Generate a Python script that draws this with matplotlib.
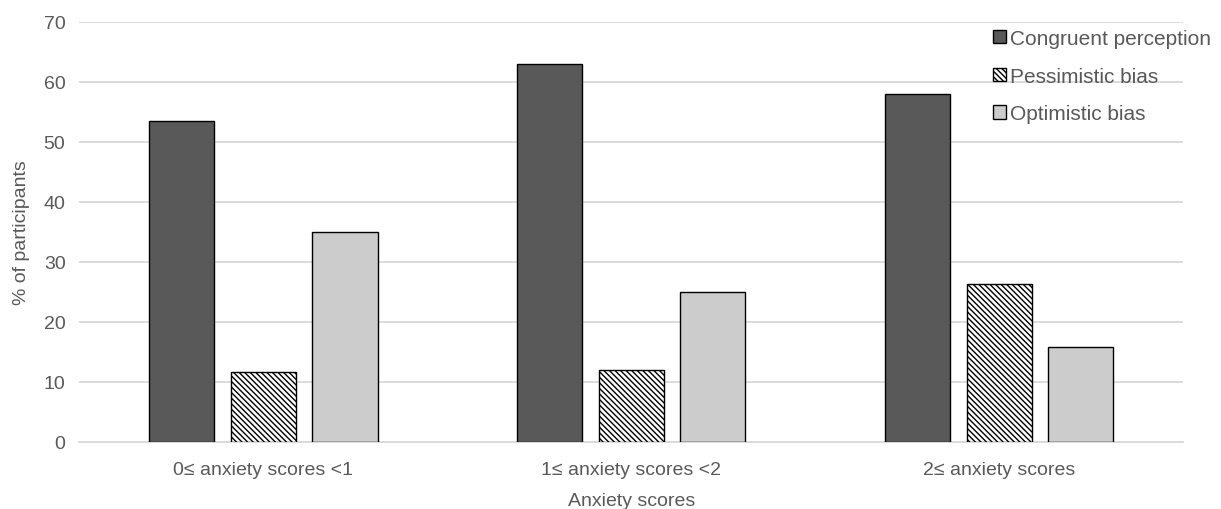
import numpy as np
import matplotlib.pyplot as plt

text_color = "#595959"
grid_color = "#d9d9d9"

categories = ["0≤ anxiety scores <1", "1≤ anxiety scores <2", "2≤ anxiety scores"]
congruent = [53.5, 63.0, 58.0]
pessimistic = [11.6, 12.0, 26.3]
optimistic = [35.0, 25.0, 15.8]
series_names = ["Congruent perception", "Pessimistic bias", "Optimistic bias"]
y_ticks = [0, 10, 20, 30, 40, 50, 60, 70]


def main():
    plt.rcParams["font.family"] = ["Liberation Sans", "DejaVu Sans"]
    plt.rcParams["hatch.linewidth"] = 1.0

    (fig, ax) = plt.subplots(figsize=(12.21, 5.10), dpi=100)
    fig.subplots_adjust(left=0.065, right=0.969, top=0.955, bottom=0.132)

    x = np.arange(len(categories))
    width = 0.177
    step = 0.222

    ax.bar(x - step, congruent, width, color="#595959", edgecolor="black",
           linewidth=1, label=series_names[0], zorder=3)
    ax.bar(x, pessimistic, width, color="white", edgecolor="black",
           hatch="\\" * 6, linewidth=1, label=series_names[1], zorder=3)
    ax.bar(x + step, optimistic, width, color="#cccccc", edgecolor="black",
           linewidth=1, label=series_names[2], zorder=3)

    ax.set_xlim(-0.5, len(categories) - 0.5)
    ax.set_ylim(0, 70)
    ax.set_yticks(y_ticks)
    ax.set_xticks(x)
    ax.set_xticklabels(categories)

    ax.grid(True, axis="y", color=grid_color, linewidth=1.3, zorder=0)
    for side in ["top", "right", "left"]:
        ax.spines[side].set_visible(False)
    ax.spines["bottom"].set_color(grid_color)
    ax.spines["bottom"].set_linewidth(1.3)
    ax.tick_params(axis="y", length=0, labelcolor=text_color, labelsize=14, pad=10)
    ax.tick_params(axis="x", length=0, labelcolor=text_color, labelsize=14, pad=14)

    ax.set_ylabel("% of participants", color=text_color, fontsize=14, labelpad=10)
    ax.set_xlabel("Anxiety scores", color=text_color, fontsize=14, labelpad=10)

    leg = ax.legend(loc="upper right", bbox_to_anchor=(1.042, 1.028), frameon=False,
                    fontsize=15, handlelength=0.6, handleheight=0.6,
                    handletextpad=0.2, labelspacing=0.9)
    for t in leg.get_texts():
        t.set_color(text_color)

    plt.savefig("out.png", dpi=100)


if __name__ == "__main__":
    main()
